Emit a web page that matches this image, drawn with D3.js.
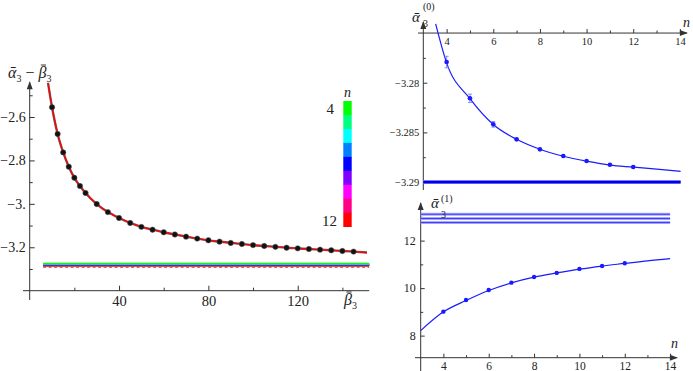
<!DOCTYPE html>
<html>
<head>
<meta charset="utf-8">
<script src="https://cdn.jsdelivr.net/npm/d3@7"></script>
<style>
  body { margin: 0; background: #fff; }
  text { font-family: "Liberation Serif", "DejaVu Serif", serif; fill: #222; }
</style>
</head>
<body>
<div id="chart"></div>
<script>
// ---- left panel: alpha3 - beta3 against beta3 ----
const betaValues = [10, 12.5, 15, 17.5, 20, 22.5, 25, 30, 35, 40, 45, 50, 55, 60, 65, 70,
  75, 80, 85, 90, 95, 100, 105, 110, 115, 120, 125, 130, 135, 140, 145];
const diffValues = [-2.555, -2.678, -2.763, -2.829, -2.880, -2.918, -2.950, -3.001, -3.038,
  -3.065, -3.088, -3.106, -3.119, -3.131, -3.141, -3.151, -3.160, -3.168, -3.174, -3.180,
  -3.185, -3.190, -3.194, -3.198, -3.202, -3.205, -3.208, -3.211, -3.214, -3.217, -3.220];
// ends of the fitted curve beyond the points
const diffFitStart = [8.2, -2.443];
const diffFitEnd = [151, -3.224];
// large-beta limits for each n (4..12)
const nLegend = [4, 5, 6, 7, 8, 9, 10, 11, 12];
const nColors = ["#00ff00", "#00ff80", "#00ffff", "#0080ff", "#0000ff", "#8000ff", "#ff00ff", "#ff0080", "#ff0000"];
const diffLimits = [-3.2748, -3.2758, -3.2768, -3.2790, -3.2800, -3.2810, -3.2820, -3.2830, -3.2858];
const diffLimitDashed = -3.2925;

// ---- right panels: coefficients against n ----
const nValues = [4, 5, 6, 7, 8, 9, 10, 11, 12];
const a0Values = [-3.27792, -3.28157, -3.28419, -3.28570, -3.28671, -3.28738, -3.28788, -3.28826, -3.28849];
const a0Errors = [0.00058, 0.00042, 0.00028, 0.0001, 0.00008, 0.00006, 0.00005, 0.00005, 0.00005];
const a0FitN = [3.53, 4, 5, 6, 7, 8, 9, 10, 11, 12, 13, 14.03];
const a0FitValues = [-3.27407, -3.2780, -3.2816, -3.2842, -3.2857, -3.2867, -3.2874, -3.2879, -3.2883, -3.2885, -3.2887, -3.28892];
const a0Limit = -3.29;

const a1Values = [9.01, 9.50, 9.92, 10.23, 10.47, 10.64, 10.81, 10.93, 11.05];
const a1FitN = [3, 4, 5, 6, 7, 8, 9, 10, 11, 12, 13, 14];
const a1FitValues = [8.21, 9.0, 9.48, 9.9, 10.22, 10.46, 10.64, 10.8, 10.93, 11.04, 11.15, 11.24];
const a1Limits = [13.11, 12.93, 12.76];

const svg = d3.select("#chart").append("svg")
  .attr("width", 693).attr("height", 371);

const axisColor = "#333";
const serif = '"Liberation Serif", "DejaVu Serif", serif';

// helper: draw ticks with d3 axis, no domain line
function ticks(g, axis, fontSize) {
  g.call(axis);
  g.attr("font-family", null);
  g.select(".domain").remove();
  g.selectAll(".tick line").attr("stroke", axisColor);
  g.selectAll("text").style("font-family", serif).attr("font-size", fontSize).attr("fill", "#222");
  return g;
}
function arrowUp(x, y) {
  svg.append("path").attr("d", `M${x},${y - 1}L${x - 3},${y + 7}L${x + 3},${y + 7}Z`).attr("fill", axisColor);
}
function arrowRight(x, y) {
  svg.append("path").attr("d", `M${x + 1},${y}L${x - 7},${y - 3}L${x - 7},${y + 3}Z`).attr("fill", axisColor);
}
// draw a bar above character i of a text element
function overbar(textSel, i) {
  const box = textSel.node().getExtentOfChar(i);
  svg.append("line")
    .attr("x1", box.x + box.width * 0.3).attr("x2", box.x + box.width * 0.95)
    .attr("y1", box.y + 1).attr("y2", box.y + 1)
    .attr("stroke", "#222").attr("stroke-width", 0.9);
}
const minus = d => String(d).replace("-", "\u2212");

// ================= LEFT PANEL =================
const xL = d3.scaleLinear().domain([0, 152]).range([29.7, 369.2]);
const yL = d3.scaleLinear().domain([-3.4, -2.44]).range([290.7, 82.25]);

const leftPanel = svg.append("g");
// axis lines
leftPanel.append("line").attr("x1", xL(0)).attr("x2", xL(0)).attr("y1", yL(-2.44)).attr("y2", 300)
  .attr("stroke", axisColor);
leftPanel.append("line").attr("x1", 23).attr("x2", xL(152)).attr("y1", yL(-3.4)).attr("y2", yL(-3.4))
  .attr("stroke", axisColor);
arrowUp(xL(0), yL(-2.44));

ticks(leftPanel.append("g").attr("transform", `translate(0,${yL(-3.4)})`),
  d3.axisBottom(xL).tickValues([40, 80, 120]).tickSize(-5).tickPadding(5).tickFormat(String), 14.5);
ticks(leftPanel.append("g").attr("transform", `translate(0,${yL(-3.4)})`),
  d3.axisBottom(xL).tickValues([20, 60, 100, 140]).tickSize(-3).tickFormat(""));

ticks(leftPanel.append("g").attr("transform", `translate(${xL(0)},0)`),
  d3.axisLeft(yL).tickValues([-2.6, -2.8, -3.0, -3.2]).tickSize(-5).tickPadding(4)
    .tickFormat(d => d === -3 ? "\u22123." : minus(d)), 14);
ticks(leftPanel.append("g").attr("transform", `translate(${xL(0)},0)`),
  d3.axisLeft(yL).tickValues([-2.5, -2.7, -2.9, -3.1, -3.3]).tickSize(-3).tickFormat(""));

// limit band: n = 12 drawn first so the green n = 4 line stays on top
leftPanel.append("line").attr("x1", xL(6)).attr("x2", xL(152))
  .attr("y1", yL(diffLimitDashed)).attr("y2", yL(diffLimitDashed))
  .attr("stroke", "#a08080").attr("stroke-width", 1.1).attr("stroke-dasharray", "3,2.5");
diffLimits.map((v, i) => i).reverse().forEach(i => {
  leftPanel.append("line").attr("x1", xL(6)).attr("x2", xL(152))
    .attr("y1", yL(diffLimits[i])).attr("y2", yL(diffLimits[i]))
    .attr("stroke", nColors[i]).attr("stroke-width", i === 0 || i === 8 ? 1.7 : 1.3);
});

// fitted curve
const diffFit = [diffFitStart].concat(betaValues.map((b, i) => [b, diffValues[i]]), [diffFitEnd]);
const lineL = d3.line().x(d => xL(d[0])).y(d => yL(d[1])).curve(d3.curveMonotoneX);
leftPanel.append("path").datum(diffFit).attr("d", lineL)
  .attr("fill", "none").attr("stroke", "#666").attr("stroke-width", 2.4);
leftPanel.append("path").datum(diffFit).attr("d", lineL)
  .attr("fill", "none").attr("stroke", "#ff0000").attr("stroke-width", 1.4);

leftPanel.selectAll(".dot").data(betaValues).enter().append("circle")
  .attr("cx", d => xL(d)).attr("cy", (d, i) => yL(diffValues[i])).attr("r", 2.7)
  .attr("fill", "#111").attr("stroke", "#555").attr("stroke-width", 0.5);

// axis labels
const yLabelL = leftPanel.append("text").attr("x", 8).attr("y", 78).attr("font-size", 16)
  .html('<tspan font-style="italic">ᾱ</tspan><tspan font-size="10" dy="4">3</tspan>' +
        '<tspan dy="-4"> − </tspan><tspan font-style="italic">β</tspan><tspan font-size="10" dy="4">3</tspan>');
overbar(yLabelL, 5);
const xLabelL = leftPanel.append("text").attr("x", 344).attr("y", 305).attr("font-size", 16)
  .html('<tspan font-style="italic">β</tspan><tspan font-size="10" dy="4">3</tspan>');
overbar(xLabelL, 0);

// legend bar
const legY = d3.scaleBand().domain(nLegend).range([101, 226.7]);
leftPanel.selectAll(".leg").data(nLegend).enter().append("rect")
  .attr("x", 343.3).attr("width", 8.4)
  .attr("y", d => legY(d)).attr("height", legY.bandwidth() + 0.3)
  .attr("fill", (d, i) => nColors[i]);
leftPanel.append("text").attr("x", 334).attr("y", 114).attr("text-anchor", "end").attr("font-size", 15).text(nLegend[0]);
leftPanel.append("text").attr("x", 337).attr("y", 226).attr("text-anchor", "end").attr("font-size", 15).text(nLegend[8]);
leftPanel.append("text").attr("x", 344).attr("y", 97).attr("font-size", 14).attr("font-style", "italic").text("n");

// ================= TOP RIGHT PANEL =================
const xT = d3.scaleLinear().domain([3, 14.3]).range([423.3, 686.9]);
const yT = d3.scaleLinear().domain([-3.275, -3.2908]).range([33.05, 190]);
const topPanel = svg.append("g");

topPanel.append("line").attr("x1", xT(3)).attr("x2", xT(3)).attr("y1", 22).attr("y2", yT(-3.2908)).attr("stroke", axisColor);
topPanel.append("line").attr("x1", 418).attr("x2", xT(14.3)).attr("y1", yT(-3.275)).attr("y2", yT(-3.275)).attr("stroke", axisColor);
arrowUp(xT(3), 22);
arrowRight(xT(14.3), yT(-3.275));

ticks(topPanel.append("g").attr("transform", `translate(0,${yT(-3.275)})`),
  d3.axisBottom(xT).tickValues([4, 6, 8, 10, 12, 14]).tickSize(-4).tickPadding(4).tickFormat(String), 10.5);
ticks(topPanel.append("g").attr("transform", `translate(0,${yT(-3.275)})`),
  d3.axisBottom(xT).tickValues([5, 7, 9, 11, 13]).tickSize(-2.5).tickFormat(""));
ticks(topPanel.append("g").attr("transform", `translate(${xT(3)},0)`),
  d3.axisLeft(yT).tickValues([-3.28, -3.285, -3.29]).tickSize(-4).tickPadding(4).tickFormat(minus), 10.5);
ticks(topPanel.append("g").attr("transform", `translate(${xT(3)},0)`),
  d3.axisLeft(yT).tickValues([-3.2775, -3.2825, -3.2875]).tickSize(-2.5).tickFormat(""));

// limit band
topPanel.append("line").attr("x1", xT(3)).attr("x2", xT(14.03)).attr("y1", yT(a0Limit)).attr("y2", yT(a0Limit))
  .attr("stroke", "#7a7aff").attr("stroke-width", 4);
topPanel.append("line").attr("x1", xT(3)).attr("x2", xT(14.03)).attr("y1", yT(a0Limit)).attr("y2", yT(a0Limit))
  .attr("stroke", "#0000e0").attr("stroke-width", 2.2);

const lineT = d3.line().x(d => xT(d[0])).y(d => yT(d[1])).curve(d3.curveMonotoneX);
topPanel.append("path").datum(a0FitN.map((n, i) => [n, a0FitValues[i]])).attr("d", lineT)
  .attr("fill", "none").attr("stroke", "#1a1aff").attr("stroke-width", 1.2);

nValues.forEach((n, i) => {
  const x = xT(n), y1 = yT(a0Values[i] + a0Errors[i]), y2 = yT(a0Values[i] - a0Errors[i]);
  topPanel.append("path").attr("d", `M${x},${y1}V${y2}M${x - 2},${y1}H${x + 2}M${x - 2},${y2}H${x + 2}`)
    .attr("stroke", "#8a8aff").attr("stroke-width", 1).attr("fill", "none");
});
topPanel.selectAll(".dot").data(nValues).enter().append("circle")
  .attr("cx", d => xT(d)).attr("cy", (d, i) => yT(a0Values[i])).attr("r", 2.3).attr("fill", "#1a1aff");

topPanel.append("text").attr("x", 412).attr("y", 22).attr("font-size", 15).attr("font-style", "italic").text("ᾱ");
topPanel.append("text").attr("x", 423).attr("y", 10).attr("font-size", 10).text("(0)");
topPanel.append("text").attr("x", 423).attr("y", 27).attr("font-size", 10).text("3");
topPanel.append("text").attr("x", 683).attr("y", 27).attr("font-size", 14).attr("font-style", "italic").text("n");

// ================= BOTTOM RIGHT PANEL =================
const xB = d3.scaleLinear().domain([3, 14.3]).range([420.7, 676.9]);
const yB = d3.scaleLinear().domain([7.07, 13.58]).range([357.7, 203.1]);
const botPanel = svg.append("g");

botPanel.append("line").attr("x1", xB(3)).attr("x2", xB(3)).attr("y1", yB(13.58)).attr("y2", 371).attr("stroke", axisColor);
botPanel.append("line").attr("x1", 415).attr("x2", xB(14.3)).attr("y1", yB(7.07)).attr("y2", yB(7.07)).attr("stroke", axisColor);
arrowUp(xB(3), yB(13.58));
arrowRight(xB(14.3), yB(7.07));

ticks(botPanel.append("g").attr("transform", `translate(0,${yB(7.07)})`),
  d3.axisBottom(xB).tickValues([4, 6, 8, 10, 12, 14]).tickSize(-4).tickPadding(4).tickFormat(String), 11.5);
ticks(botPanel.append("g").attr("transform", `translate(0,${yB(7.07)})`),
  d3.axisBottom(xB).tickValues([5, 7, 9, 11, 13]).tickSize(-2.5).tickFormat(""));
ticks(botPanel.append("g").attr("transform", `translate(${xB(3)},0)`),
  d3.axisLeft(yB).tickValues([8, 10, 12]).tickSize(-4).tickPadding(5).tickFormat(String), 12);
ticks(botPanel.append("g").attr("transform", `translate(${xB(3)},0)`),
  d3.axisLeft(yB).tickValues([9, 11, 13]).tickSize(-2.5).tickFormat(""));

a1Limits.forEach(v => {
  botPanel.append("line").attr("x1", xB(3)).attr("x2", xB(14)).attr("y1", yB(v)).attr("y2", yB(v))
    .attr("stroke", "#a8a8ff").attr("stroke-width", 3);
  botPanel.append("line").attr("x1", xB(3)).attr("x2", xB(14)).attr("y1", yB(v)).attr("y2", yB(v))
    .attr("stroke", "#3a3aff").attr("stroke-width", 1);
});

const lineB = d3.line().x(d => xB(d[0])).y(d => yB(d[1])).curve(d3.curveMonotoneX);
botPanel.append("path").datum(a1FitN.map((n, i) => [n, a1FitValues[i]])).attr("d", lineB)
  .attr("fill", "none").attr("stroke", "#1a1aff").attr("stroke-width", 1.2);
botPanel.selectAll(".dot").data(nValues).enter().append("circle")
  .attr("cx", d => xB(d)).attr("cy", (d, i) => yB(a1Values[i])).attr("r", 2.2).attr("fill", "#1a1aff");

botPanel.append("text").attr("x", 431).attr("y", 208).attr("font-size", 15).attr("font-style", "italic").text("ᾱ");
botPanel.append("text").attr("x", 441).attr("y", 202).attr("font-size", 10).text("(1)");
botPanel.append("text").attr("x", 441).attr("y", 218).attr("font-size", 10).text("3");
botPanel.append("text").attr("x", 671).attr("y", 348).attr("font-size", 14).attr("font-style", "italic").text("n");
</script>
</body>
</html>
